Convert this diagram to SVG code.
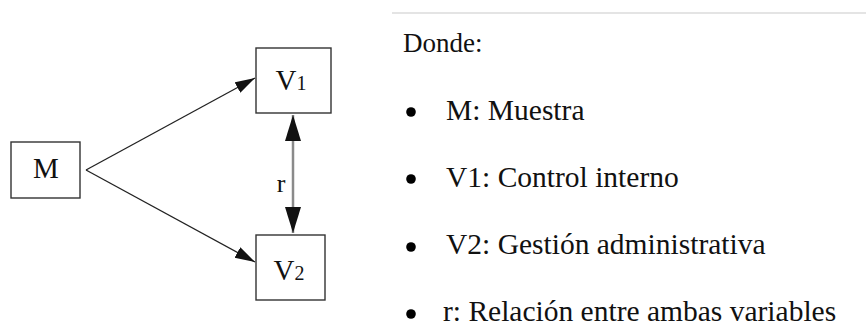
<svg xmlns="http://www.w3.org/2000/svg" width="866" height="333" viewBox="0 0 866 333">
  <style>
    .box { fill: #ffffff; stroke: #333333; stroke-width: 1.4; }
    .edge { stroke: #222222; stroke-width: 1.3; fill: none; }
    .rel { stroke: #8a8a8a; stroke-width: 2.5; fill: none; }
  </style>
  <defs>
    <marker id="head" markerUnits="userSpaceOnUse" markerWidth="22" markerHeight="14" refX="20" refY="6" orient="auto">
      <path d="M0,0 L20,6 L0,12 z" fill="#111111"/>
    </marker>
    <marker id="headBig" markerUnits="userSpaceOnUse" markerWidth="28" markerHeight="18" refX="26" refY="8" orient="auto-start-reverse">
      <path d="M0,0 L26,8 L0,16 z" fill="#111111"/>
    </marker>
  </defs>

  <rect width="866" height="333" fill="#ffffff"/>

  <!-- connectors -->
  <g id="connectors">
    <line class="edge" x1="86" y1="170" x2="255" y2="78" marker-end="url(#head)"/>
    <line class="edge" x1="86" y1="170" x2="255" y2="262" marker-end="url(#head)"/>
    <line class="rel" x1="293" y1="115" x2="293" y2="233" marker-start="url(#headBig)" marker-end="url(#headBig)"/>
    <text x="281" y="192" font-family="Liberation Serif, serif" font-size="26" fill="#111111" text-anchor="middle">r</text>
  </g>

  <!-- nodes -->
  <g id="node-m">
    <rect class="box" x="11" y="142" width="69" height="56"/>
    <text x="46" y="178" font-family="Liberation Serif, serif" font-size="29" fill="#111111" text-anchor="middle">M</text>
  </g>
  <g id="node-v1">
    <rect class="box" x="256" y="48" width="75" height="65"/>
    <text x="291" y="90" font-family="Liberation Serif, serif" font-size="29" fill="#111111" text-anchor="middle">V<tspan font-size="20">1</tspan></text>
  </g>
  <g id="node-v2">
    <rect class="box" x="256" y="235" width="69" height="65"/>
    <text x="289" y="280" font-family="Liberation Serif, serif" font-size="29" fill="#111111" text-anchor="middle">V<tspan font-size="20">2</tspan></text>
  </g>

  <!-- legend -->
  <g id="legend">
    <line x1="392" y1="13" x2="866" y2="13" stroke="#e4e4e4" stroke-width="2"/>
    <text x="403" y="52" font-family="Liberation Serif, serif" font-size="27" fill="#111111">Donde:</text>
    <circle cx="411" cy="112" r="4.8" fill="#000000"/>
    <text x="446" y="120" font-family="Liberation Serif, serif" font-size="29.5" fill="#111111">M: Muestra</text>
    <circle cx="411" cy="179" r="4.8" fill="#000000"/>
    <text x="446" y="187" font-family="Liberation Serif, serif" font-size="29.5" fill="#111111">V1: Control interno</text>
    <circle cx="411" cy="247" r="4.8" fill="#000000"/>
    <text x="446" y="254" font-family="Liberation Serif, serif" font-size="29.5" fill="#111111">V2: Gestión administrativa</text>
    <circle cx="411" cy="314" r="4.8" fill="#000000"/>
    <text x="443" y="321" font-family="Liberation Serif, serif" font-size="29.5" fill="#111111">r: Relación entre ambas variables</text>
  </g>
</svg>
